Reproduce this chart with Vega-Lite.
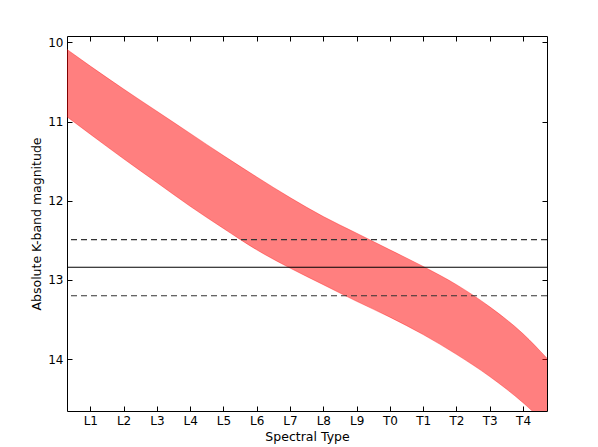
{
  "$schema": "https://vega.github.io/schema/vega-lite/v6.json",
  "width": 480,
  "height": 375,
  "autosize": {"type": "none"},
  "padding": {"left": 67, "top": 36, "right": 51, "bottom": 36},
  "background": "white",
  "config": {
    "view": {"stroke": "black", "strokeWidth": 1},
    "font": "DejaVu Sans",
    "axis": {
      "labelFont": "DejaVu Sans",
      "titleFont": "DejaVu Sans",
      "labelFontSize": 12,
      "titleFontSize": 12.5,
      "titleFontWeight": "normal",
      "labelColor": "black",
      "titleColor": "black",
      "tickColor": "black",
      "grid": false,
      "domain": false,
      "tickSize": -5,
      "labelPadding": 9
    }
  },
  "datasets": {
    "band": [
      {"spt": 0.3, "upper": 10.09, "lower": 10.94},
      {"spt": 1, "upper": 10.30, "lower": 11.16},
      {"spt": 2, "upper": 10.59, "lower": 11.47},
      {"spt": 3, "upper": 10.87, "lower": 11.77},
      {"spt": 4, "upper": 11.15, "lower": 12.07},
      {"spt": 5, "upper": 11.43, "lower": 12.35},
      {"spt": 6, "upper": 11.70, "lower": 12.62},
      {"spt": 7, "upper": 11.96, "lower": 12.85},
      {"spt": 8, "upper": 12.20, "lower": 13.06},
      {"spt": 9, "upper": 12.41, "lower": 13.27},
      {"spt": 10, "upper": 12.62, "lower": 13.47},
      {"spt": 11, "upper": 12.83, "lower": 13.69},
      {"spt": 12, "upper": 13.06, "lower": 13.94},
      {"spt": 13, "upper": 13.34, "lower": 14.22},
      {"spt": 14, "upper": 13.68, "lower": 14.55},
      {"spt": 14.72, "upper": 13.99, "lower": 14.83}
    ],
    "solid": [{"mag": 12.84}],
    "dashed": [{"mag": 12.49}, {"mag": 13.20}]
  },
  "layer": [
    {
      "data": {"name": "band"},
      "mark": {"type": "area", "color": "#ff0000", "fillOpacity": 0.5, "interpolate": "monotone", "clip": true},
      "encoding": {
        "x": {
          "field": "spt", "type": "quantitative",
          "scale": {"domain": [0.3, 14.72], "nice": false, "zero": false},
          "axis": {
            "orient": "bottom",
            "values": [1, 2, 3, 4, 5, 6, 7, 8, 9, 10, 11, 12, 13, 14],
            "labelExpr": "datum.value <= 9 ? 'L' + datum.value : 'T' + (datum.value - 10)",
            "title": "Spectral Type",
            "titlePadding": 4
          }
        },
        "y": {
          "field": "upper", "type": "quantitative",
          "scale": {"domain": [9.92, 14.655], "reverse": true, "nice": false, "zero": false},
          "axis": {
            "orient": "left",
            "values": [10, 11, 12, 13, 14],
            "title": "Absolute K-band magnitude",
            "titlePadding": 4
          }
        },
        "y2": {"field": "lower"}
      }
    },
    {
      "data": {"name": "band"},
      "mark": {"type": "line", "color": "#ff0000", "strokeOpacity": 0.35, "strokeWidth": 1, "interpolate": "monotone", "clip": true},
      "encoding": {
        "x": {"field": "spt", "type": "quantitative", "axis": {"orient": "top", "values": [1, 2, 3, 4, 5, 6, 7, 8, 9, 10, 11, 12, 13, 14], "labels": false, "title": null}},
        "y": {"field": "upper", "type": "quantitative", "axis": {"orient": "right", "values": [10, 11, 12, 13, 14], "labels": false, "title": null}}
      }
    },
    {
      "data": {"name": "band"},
      "mark": {"type": "line", "color": "#ff0000", "strokeOpacity": 0.35, "strokeWidth": 1, "interpolate": "monotone", "clip": true},
      "encoding": {
        "x": {"field": "spt", "type": "quantitative", "axis": null},
        "y": {"field": "lower", "type": "quantitative", "axis": null}
      }
    },
    {
      "data": {"name": "solid"},
      "mark": {"type": "rule", "color": "black", "strokeWidth": 1.2},
      "encoding": {"y": {"field": "mag", "type": "quantitative", "axis": null}}
    },
    {
      "data": {"name": "dashed"},
      "mark": {"type": "rule", "color": "#333333", "strokeWidth": 1.2, "strokeDash": [6, 4]},
      "encoding": {"y": {"field": "mag", "type": "quantitative", "axis": null}}
    }
  ],
  "resolve": {"axis": {"x": "independent", "y": "independent"}}
}
